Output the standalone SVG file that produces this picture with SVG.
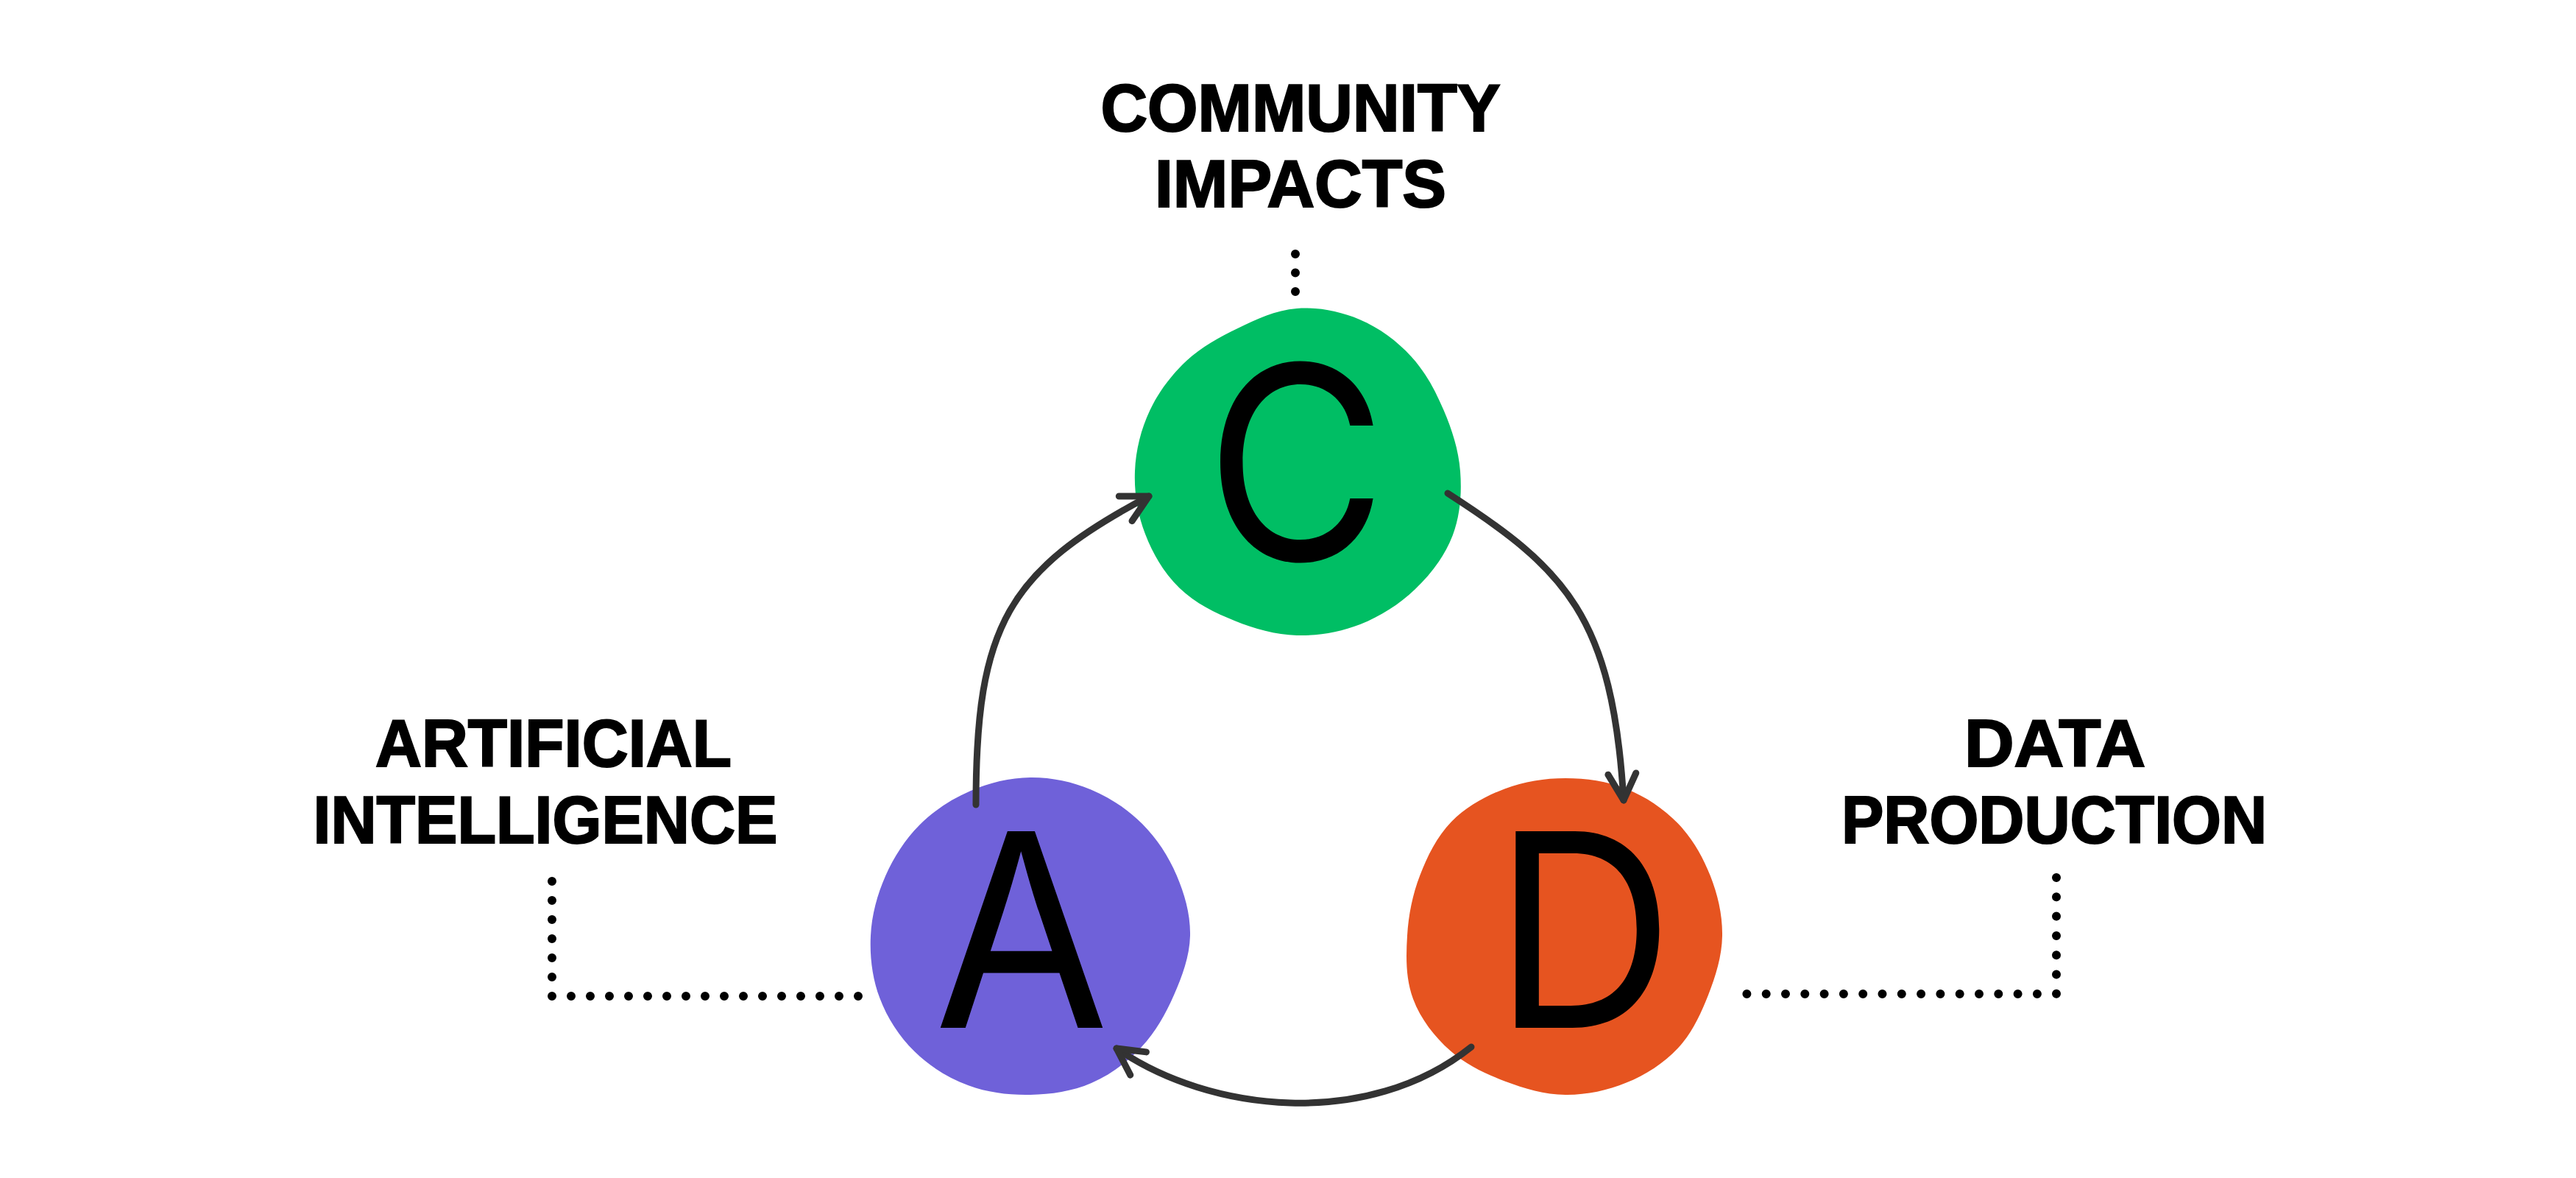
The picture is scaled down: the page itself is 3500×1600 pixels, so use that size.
<svg xmlns="http://www.w3.org/2000/svg" width="3500" height="1600" viewBox="0 0 3500 1600">
<style>
.label{font-family:"Liberation Sans",Arial,Helvetica,sans-serif;font-weight:bold;font-size:91px;fill:#000;stroke:#000;stroke-width:2.2;text-anchor:middle}
.big{font-family:Inter,"Liberation Sans",Arial,sans-serif;font-weight:400;font-size:367px;fill:#000;text-anchor:middle}
.conn{fill:none;stroke:#333333;stroke-width:9;stroke-linecap:round;stroke-linejoin:round}
.dots{fill:none;stroke:#000;stroke-width:12;stroke-linecap:round}
</style>
<defs>
<marker id="arrow" markerUnits="userSpaceOnUse" orient="auto" viewBox="-50 -30 60 60" markerWidth="60" markerHeight="60" refX="0" refY="0" overflow="visible">
<path d="M -36 -19 L 0 0 L -36 19" fill="none" stroke="#333333" stroke-width="9" stroke-linecap="round" stroke-linejoin="round"/>
</marker>
</defs>
<rect x="0" y="0" width="3500" height="1600" fill="#ffffff"/>

<g id="leaders">
<path class="dots" stroke-dasharray="0 25.5" d="M 1760 345 V 398"/>
<path class="dots" stroke-dasharray="0 26" d="M 750 1197 V 1353 H 1169"/>
<path class="dots" stroke-dasharray="0 26.3" d="M 2794 1192 V 1350 H 2370"/>
</g>

<g id="node-c">
<path fill="#00BE64" d="M 1984 640 C 1986.2 669.1, 1984.3 699.6, 1973.6 727.6 C 1962.9 755.6, 1944 780, 1922.5 800.5 C 1901 821, 1875.6 837.2, 1848.1 847.9 C 1820.6 858.6, 1791.2 863.8, 1762 863 C 1732.8 862.2, 1704.5 854, 1677.8 843.3 C 1651.1 832.6, 1624.1 819.6, 1602.9 799.1 C 1581.7 778.6, 1566.4 752.6, 1556 725.3 C 1545.6 698, 1540.8 668.8, 1542 640 C 1543.2 611.2, 1550.3 582.9, 1562.4 557.3 C 1574.5 531.7, 1591.8 509, 1612.1 490.1 C 1632.4 471.2, 1656.8 457.9, 1681.6 446 C 1706.4 434.1, 1733.1 421.2, 1762 419 C 1790.9 416.8, 1820.4 422.7, 1847.3 434 C 1874.2 445.3, 1898.1 463.2, 1917.6 484.4 C 1937.1 505.6, 1950.5 531.3, 1961.6 557.3 C 1972.7 583.3, 1981.8 610.9, 1984 640 Z"/>
<text class="big" x="1761" y="761" textLength="246" lengthAdjust="spacingAndGlyphs">C</text>
<text class="label" x="1767" y="178" textLength="543" lengthAdjust="spacingAndGlyphs">COMMUNITY</text>
<text class="label" x="1767" y="281" textLength="396" lengthAdjust="spacingAndGlyphs">IMPACTS</text>
</g>

<g id="node-a">
<path fill="#6F61D9" d="M 1617 1271 C 1616.3 1299.4, 1606 1326.4, 1594.9 1351.7 C 1583.8 1377, 1570.1 1401.6, 1551 1422 C 1531.9 1442.4, 1508.9 1459.8, 1482.9 1471 C 1456.9 1482.2, 1428.3 1486.4, 1400 1487 C 1371.7 1487.6, 1342.8 1484.3, 1315.8 1474.3 C 1288.8 1464.3, 1263.5 1448.7, 1242.7 1428.3 C 1221.9 1407.9, 1205.6 1382.9, 1195.4 1355.8 C 1185.2 1328.7, 1181.6 1299.4, 1183 1271 C 1184.4 1242.6, 1191.9 1215, 1203.2 1189.5 C 1214.5 1164, 1229.7 1140.1, 1249.4 1120.4 C 1269.1 1100.7, 1292.9 1085.2, 1318.5 1074.2 C 1344.1 1063.2, 1371.9 1056.3, 1400 1056 C 1428.1 1055.7, 1456.3 1061.6, 1482.3 1072.4 C 1508.3 1083.2, 1532.1 1099.1, 1552 1119 C 1571.9 1138.9, 1587.5 1162.8, 1598.6 1188.7 C 1609.7 1214.6, 1617.7 1242.6, 1617 1271 Z"/>
<text class="big" x="1388" y="1396" textLength="238" lengthAdjust="spacingAndGlyphs">A</text>
<text class="label" x="752" y="1041" textLength="484" lengthAdjust="spacingAndGlyphs">ARTIFICIAL</text>
<text class="label" x="741" y="1145" textLength="631" lengthAdjust="spacingAndGlyphs">INTELLIGENCE</text>
</g>

<g id="node-d">
<path fill="#E65420" d="M 2340 1271 C 2339.5 1298.9, 2331.1 1325.8, 2321 1351.4 C 2310.9 1377, 2299 1403, 2279.7 1423.7 C 2260.4 1444.4, 2235.8 1459.8, 2209.7 1470.6 C 2183.6 1481.4, 2155.3 1487.3, 2127 1487 C 2098.7 1486.7, 2071.3 1478.6, 2045.1 1468.7 C 2018.9 1458.8, 1992.3 1446.6, 1970.7 1427.3 C 1949.1 1408, 1930.3 1384.2, 1920 1356.7 C 1909.7 1329.2, 1910.3 1299.1, 1912 1271 C 1913.7 1242.9, 1919.2 1215.2, 1929.3 1189.1 C 1939.4 1163, 1952.1 1136.6, 1972.1 1116.1 C 1992.1 1095.6, 2017.9 1081.5, 2044.3 1071.4 C 2070.7 1061.3, 2099 1057, 2127 1057 C 2155 1057, 2183.5 1060.9, 2209.7 1071.4 C 2235.9 1081.9, 2260.1 1098, 2279.7 1118.3 C 2299.3 1138.6, 2313.6 1163.5, 2323.8 1189.5 C 2334 1215.5, 2340.5 1243.1, 2340 1271 Z"/>
<text class="big" x="2152" y="1396" textLength="245" lengthAdjust="spacingAndGlyphs">D</text>
<text class="label" x="2792" y="1041" textLength="246" lengthAdjust="spacingAndGlyphs">DATA</text>
<text class="label" x="2791" y="1145" textLength="578" lengthAdjust="spacingAndGlyphs">PRODUCTION</text>
</g>

<g id="connectors">
<path class="conn" d="M 1326 1093 C 1326 849, 1370 775, 1561 674" marker-end="url(#arrow)"/>
<path class="conn" d="M 1967 670 C 2127 773, 2191 837, 2206 1087" marker-end="url(#arrow)"/>
<path class="conn" d="M 1999 1422 C 1859 1534, 1644 1512, 1517 1424" marker-end="url(#arrow)"/>
</g>
</svg>
